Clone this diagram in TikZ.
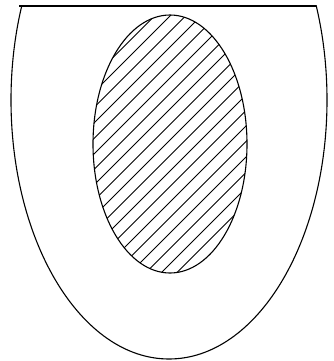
\documentclass[tikz,border=0pt]{standalone}
\tikzset{
  rim/.style={draw=black, line width=1.1pt},
  lid/.style={draw=black, line width=1.7pt},
  hatch/.style={draw=black, line width=0.8pt}
}

\begin{document}
\begin{tikzpicture}[x=1pt,y=-1pt]
\useasboundingbox (0,0) rectangle (334,361);

% --------------------------------------------------------------------------
% outer cup, open at the top
% --------------------------------------------------------------------------
\begin{scope}
  \clip (0,6) rectangle (334,361);
  \draw[rim] (169,100) ellipse [x radius=158, y radius=259];
\end{scope}
\coordinate (lidWest) at (19,6);
\coordinate (lidEast) at (316,6);
\draw[lid] (lidWest) -- (lidEast);

% --------------------------------------------------------------------------
% hatched inner body
% --------------------------------------------------------------------------
\begin{scope}
  \clip (170,144) ellipse [x radius=77, y radius=129];
  \foreach \c in {155,170.5,...,475} {
    \draw[hatch] (\c,0) -- (\c-361,361);
  }
\end{scope}
\draw[rim] (170,144) ellipse [x radius=77, y radius=129];

\end{tikzpicture}
\end{document}
